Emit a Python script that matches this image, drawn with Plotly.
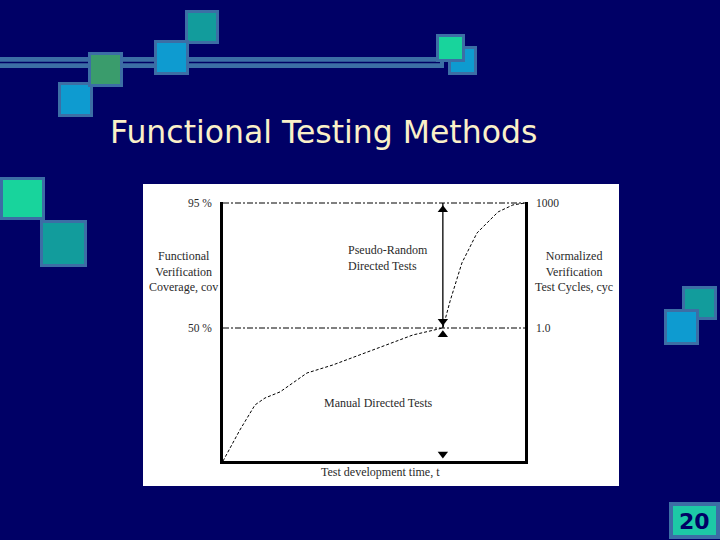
import plotly.graph_objects as go

# ---------------- data ----------------
# test development time t (0..100, normalized) and functional verification coverage (%)
CURVE_T = [0, 5.6, 10.6, 13.9, 18.9, 27.8, 36.4, 49.7, 52.0, 62.9, 72.8, 75.2, 79.1, 84.1, 87.4, 91.1, 96.0, 100]
CURVE_COV = [2.1, 13.3, 22.3, 24.8, 27.0, 33.8, 36.7, 42.1, 43.2, 47.5, 50.0, 59.7, 73.4, 84.2, 87.8, 91.8, 94.3, 95.0]

COV_TICKS = [95, 50]
COV_TICK_TEXT = ["95 %", "50 %"]
CYC_TICK_TEXT = ["1000", "1.0"]

ARROW_T = [72.8, 72.8]
ARROW_COV = [95, 50]
MARK_T = [72.8, 72.8, 72.8, 72.8]
MARK_COV = [92.6, 52.4, 47.6, 4.6]
MARK_SYMBOL = ["triangle-up", "triangle-down", "triangle-up", "triangle-down"]

T_RANGE = [0, 100]
COV_RANGE = [2.12, 95.36]

TITLE = "Functional Testing Methods"
PAGE = "20"

# ---------------- layout helpers ----------------
W, H = 720, 540
PL, PR, PT, PB = 223, 525, 202, 461


def fx(x):
    return (x - PL) / (PR - PL)


def fy(y):
    return (PB - y) / (PB - PT)


NAVY = "#000066"
STEEL = "#3C6EA5"
TEAL = "#129C9C"
BLUE = "#0E9BD0"
GREEN = "#3A9C6C"
MINT = "#18D49C"
INK = "#2a2a2a"
SERIF = "Liberation Serif"

fig = go.Figure()

fig.add_trace(go.Scatter(x=CURVE_T, y=CURVE_COV, mode="lines",
                         line=dict(color="black", width=1, dash="3px,2px"),
                         hoverinfo="skip", showlegend=False))
fig.add_trace(go.Scatter(x=ARROW_T, y=ARROW_COV, mode="lines",
                         line=dict(color="black", width=1.3),
                         hoverinfo="skip", showlegend=False))
fig.add_trace(go.Scatter(x=MARK_T, y=MARK_COV, mode="markers",
                         marker=dict(symbol=MARK_SYMBOL, size=9, color="black"),
                         hoverinfo="skip", showlegend=False, cliponaxis=False))
# invisible trace for right axis
fig.add_trace(go.Scatter(x=[T_RANGE[0]], y=[COV_RANGE[0]], yaxis="y2", mode="markers",
                         marker=dict(opacity=0), hoverinfo="skip", showlegend=False))

shapes = []


def rect(x0, y0, x1, y1, fill, line=None, lw=0, layer="above"):
    shapes.append(dict(type="rect", xref="paper", yref="paper",
                       x0=fx(x0), x1=fx(x1), y0=fy(y1), y1=fy(y0),
                       fillcolor=fill, line=dict(color=line or fill, width=lw), layer=layer))


def square(x0, y0, x1, y1, fill):
    rect(x0 + 1.5, y0 + 1.5, x1 - 1.5, y1 - 1.5, fill, STEEL, 3)


# white chart picture
rect(143, 184, 619, 486, "white", layer="below")

# decorative line
rect(0, 57, 444, 68, STEEL)
shapes.append(dict(type="line", xref="paper", yref="paper", x0=fx(0), x1=fx(440),
                   y0=fy(62.5), y1=fy(62.5), line=dict(color=NAVY, width=1.5)))
# decorative squares
square(185, 10, 219, 44, TEAL)
square(154, 40, 189, 75, BLUE)
square(58, 82, 93, 117, BLUE)
square(88, 52, 123, 87, GREEN)
square(448, 46, 477, 75, BLUE)
square(436, 34, 465, 62, MINT)
square(0, 177, 45, 220, MINT)
square(40, 220, 87, 267, TEAL)
square(682, 286, 717, 320, TEAL)
square(664, 309, 699, 345, BLUE)
# page number box
rect(671, 504, 718, 537, "#1DC9A6", STEEL, 4)

# dashed reference lines (95 % and 50 %)
for c in COV_TICKS:
    shapes.append(dict(type="line", xref="x", yref="y", x0=T_RANGE[0], x1=T_RANGE[1],
                       y0=c, y1=c, line=dict(color="black", width=1, dash="6px,2px,2px,2px")))

annotations = [
    dict(text=TITLE, xref="paper", yref="paper", x=fx(108), y=fy(132), xanchor="left",
         yanchor="middle", showarrow=False,
         font=dict(family="DejaVu Sans", size=31.5, color="#FAF0C8")),
    dict(text="<b>" + PAGE + "</b>", xref="paper", yref="paper", x=fx(694.5), y=fy(521),
         xanchor="center", yanchor="middle", showarrow=False,
         font=dict(family="DejaVu Sans", size=22, color=NAVY)),
    dict(text="Functional<br>Verification<br>Coverage, cov", xref="paper", yref="paper",
         x=fx(183), y=fy(271), xanchor="center", yanchor="middle", showarrow=False,
         font=dict(family=SERIF, size=12, color=INK)),
    dict(text="Normalized<br>Verification<br>Test Cycles, cyc", xref="paper", yref="paper",
         x=fx(574), y=fy(271), xanchor="center", yanchor="middle", showarrow=False,
         font=dict(family=SERIF, size=12, color=INK)),
    dict(text="Pseudo-Random<br>Directed Tests", xref="paper", yref="paper",
         x=fx(346), y=fy(258), xanchor="left", yanchor="middle", align="left", showarrow=False,
         font=dict(family=SERIF, size=12, color=INK)),
    dict(text="Manual Directed Tests", xref="paper", yref="paper",
         x=fx(378), y=fy(403), xanchor="center", yanchor="middle", showarrow=False,
         font=dict(family=SERIF, size=12, color=INK)),
    dict(text="Test development time, t", xref="paper", yref="paper",
         x=fx(380), y=fy(472), xanchor="center", yanchor="middle", showarrow=False,
         font=dict(family=SERIF, size=12, color=INK)),
]

fig.update_layout(
    width=W, height=H,
    margin=dict(l=PL, r=W - PR, t=PT, b=H - PB, pad=0),
    paper_bgcolor=NAVY, plot_bgcolor="rgba(0,0,0,0)",
    showlegend=False,
    shapes=shapes, annotations=annotations,
    xaxis=dict(range=T_RANGE, showgrid=False, zeroline=False, showticklabels=False,
               ticks="", showline=True, linecolor="black", linewidth=2.5),
    yaxis=dict(range=COV_RANGE, showgrid=False, zeroline=False, tickmode="array",
               tickvals=COV_TICKS, ticktext=COV_TICK_TEXT, ticks="", showline=True,
               linecolor="black", linewidth=2.5, ticklabelstandoff=6,
               tickfont=dict(family=SERIF, size=11.5, color=INK)),
    yaxis2=dict(range=COV_RANGE, overlaying="y", side="right", showgrid=False, zeroline=False,
                tickmode="array", tickvals=COV_TICKS, ticktext=CYC_TICK_TEXT, ticks="",
                showline=True, linecolor="black", linewidth=2.5, ticklabelstandoff=6,
                tickfont=dict(family=SERIF, size=11.5, color=INK)),
)

fig.write_html("out.html", config={"displayModeBar": False},
               post_script="document.body.style.margin='0';document.body.style.background='#000066';")
